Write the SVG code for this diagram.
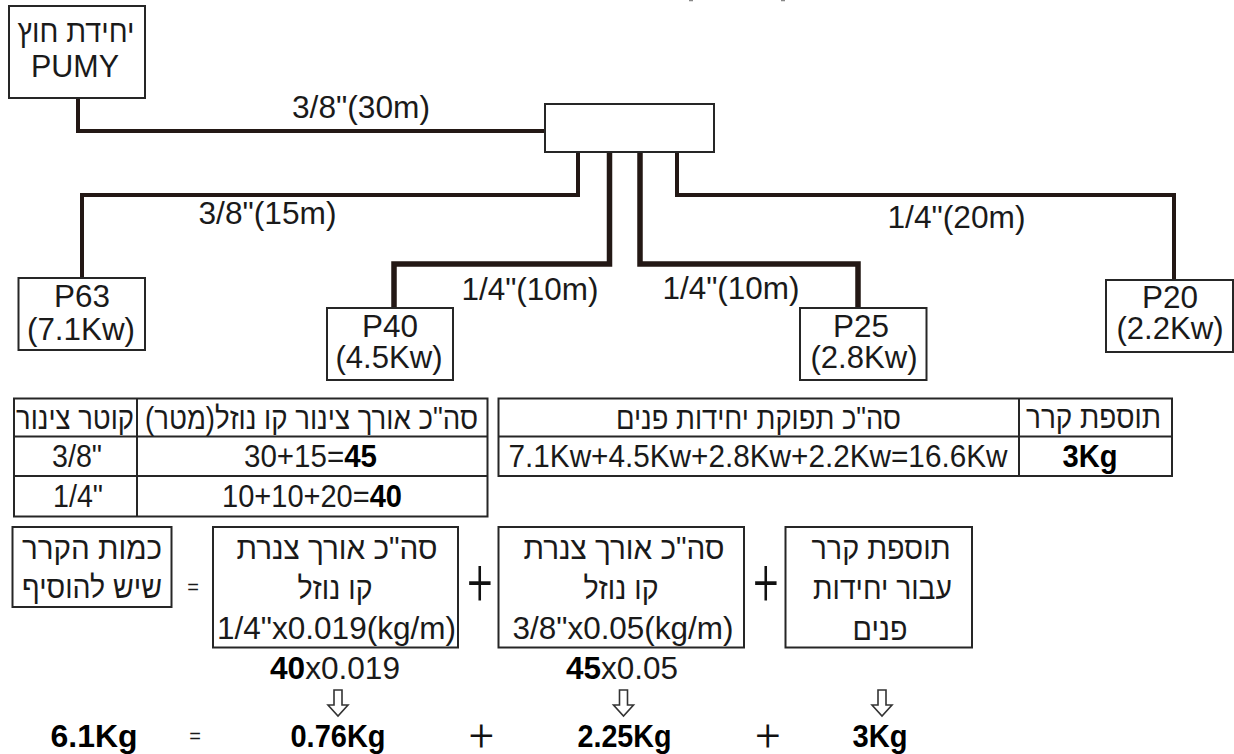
<svg xmlns="http://www.w3.org/2000/svg" width="1234" height="754" viewBox="0 0 1234 754">
<style>
text{font-family:"Liberation Sans","DejaVu Sans",sans-serif;font-size:31px;fill:#1a1a1a;text-anchor:middle;font-kerning:normal}
.b{font-weight:bold;fill:#000}
.op{font-family:Roboto,"Liberation Sans",sans-serif;font-weight:300;fill:#111;font-size:44px}
.eq{font-size:20px}
rect{fill:#fff;stroke:#262626;stroke-width:2}
.grid{fill:none;stroke:#262626;stroke-width:2}
.p{fill:none;stroke:#231815;stroke-width:4}
.t{stroke-width:5.5}
.ar{fill:#fff;stroke:#333;stroke-width:1.6}
.m{fill:none;stroke:#888;stroke-width:1.5}
</style>
<defs>
<path id="down" d="M-4 -13H4V2H10L0 13L-10 2H-4Z"/>
</defs>
<g id="connectors">
<path class="p" d="M78 98V131H546"/>
<path class="p" d="M578 152V195H82V279"/>
<path class="p t" d="M609.500 152V264H394V309"/>
<path class="p t" d="M640 152V264H858V309"/>
<path class="p" d="M677 152V195H1174V281"/>
</g>
<g id="outdoor"><rect x="9" y="6" width="136" height="92"/><text x="76" y="42" direction="rtl" textLength="117" lengthAdjust="spacingAndGlyphs">יחידת חוץ</text><text x="75" y="77" textLength="88" lengthAdjust="spacingAndGlyphs">PUMY</text></g>
<g id="branch"><rect x="545" y="104" width="169" height="48"/></g>
<g id="p63"><rect x="18.500" y="278" width="126.500" height="72"/><text x="82" y="307" textLength="56" lengthAdjust="spacingAndGlyphs">P63</text><text x="81" y="340" textLength="108" lengthAdjust="spacingAndGlyphs">(7.1Kw)</text></g>
<g id="p40"><rect x="327" y="308" width="126" height="72"/><text x="390" y="337" textLength="56" lengthAdjust="spacingAndGlyphs">P40</text><text x="389" y="368" textLength="107" lengthAdjust="spacingAndGlyphs">(4.5Kw)</text></g>
<g id="p25"><rect x="800" y="308" width="126.500" height="72"/><text x="861" y="337" textLength="56" lengthAdjust="spacingAndGlyphs">P25</text><text x="864" y="368" textLength="107" lengthAdjust="spacingAndGlyphs">(2.8Kw)</text></g>
<g id="p20"><rect x="1106" y="280" width="127" height="72"/><text x="1170" y="308" textLength="56" lengthAdjust="spacingAndGlyphs">P20</text><text x="1170" y="339" textLength="107" lengthAdjust="spacingAndGlyphs">(2.2Kw)</text></g>
<g id="pipe-labels">
<text x="361" y="118" textLength="138" lengthAdjust="spacingAndGlyphs">3/8"(30m)</text>
<text x="267.500" y="224" textLength="138" lengthAdjust="spacingAndGlyphs">3/8"(15m)</text>
<text x="530" y="300" textLength="137" lengthAdjust="spacingAndGlyphs">1/4"(10m)</text>
<text x="731" y="299" textLength="137" lengthAdjust="spacingAndGlyphs">1/4"(10m)</text>
<text x="956.500" y="228" textLength="138" lengthAdjust="spacingAndGlyphs">1/4"(20m)</text>
</g>
<g id="table-pipes">
<path class="grid" d="M14 398.500H487.500V516.500H14ZM14 436.500H487.500M14 476H487.500M137 398.500V516.500"/>
<text x="75" y="429" direction="rtl" textLength="118" lengthAdjust="spacingAndGlyphs">קוטר צינור</text>
<text x="311.500" y="429" direction="rtl" textLength="333" lengthAdjust="spacingAndGlyphs">סה"כ אורך צינור קו נוזל(מטר)</text>
<text x="77" y="467" textLength="50" lengthAdjust="spacingAndGlyphs">3/8"</text>
<text x="78" y="507" textLength="50" lengthAdjust="spacingAndGlyphs">1/4"</text>
<text x="310.500" y="467" textLength="133" lengthAdjust="spacingAndGlyphs">30+15=<tspan class="b">45</tspan></text>
<text x="312" y="507" textLength="180" lengthAdjust="spacingAndGlyphs">10+10+20=<tspan class="b">40</tspan></text>
</g>
<g id="table-capacity">
<path class="grid" d="M498.500 398.500H1172V476H498.500ZM498.500 436.500H1172M1019 398.500V476"/>
<text x="758.500" y="429" direction="rtl" textLength="285" lengthAdjust="spacingAndGlyphs">סה"כ תפוקת יחידות פנים</text>
<text x="758" y="467" textLength="499" lengthAdjust="spacingAndGlyphs">7.1Kw+4.5Kw+2.8Kw+2.2Kw=16.6Kw</text>
<text x="1093.500" y="428" direction="rtl" textLength="135" lengthAdjust="spacingAndGlyphs">תוספת קרר</text>
<text class="b" x="1090" y="467" textLength="55" lengthAdjust="spacingAndGlyphs">3Kg</text>
</g>
<g id="refrigerant-total"><rect x="12.500" y="527" width="159" height="80"/>
<text x="92" y="559" direction="rtl" textLength="140" lengthAdjust="spacingAndGlyphs">כמות הקרר</text>
<text x="92" y="598" direction="rtl" textLength="140" lengthAdjust="spacingAndGlyphs">שיש להוסיף</text></g>
<g id="pipe-quarter"><rect x="213" y="527" width="245" height="120.500"/>
<text x="337" y="559" direction="rtl" textLength="201" lengthAdjust="spacingAndGlyphs">סה"כ אורך צנרת</text>
<text x="335" y="599" direction="rtl" textLength="75" lengthAdjust="spacingAndGlyphs">קו נוזל</text>
<text x="336.500" y="639" textLength="239" lengthAdjust="spacingAndGlyphs">1/4"x0.019(kg/m)</text></g>
<g id="pipe-three-eighths"><rect x="498.500" y="527" width="245.500" height="120.500"/>
<text x="624" y="559" direction="rtl" textLength="201" lengthAdjust="spacingAndGlyphs">סה"כ אורך צנרת</text>
<text x="621" y="599" direction="rtl" textLength="75" lengthAdjust="spacingAndGlyphs">קו נוזל</text>
<text x="623" y="639" textLength="221" lengthAdjust="spacingAndGlyphs">3/8"x0.05(kg/m)</text></g>
<g id="indoor-addition"><rect x="785.500" y="527" width="186.500" height="120.500"/>
<text x="881" y="559" direction="rtl" textLength="139" lengthAdjust="spacingAndGlyphs">תוספת קרר</text>
<text x="882.500" y="599" direction="rtl" textLength="139" lengthAdjust="spacingAndGlyphs">עבור יחידות</text>
<text x="880" y="640" direction="rtl" textLength="55" lengthAdjust="spacingAndGlyphs">פנים</text></g>
<g id="formula">
<text class="eq" x="193" y="594">=</text>
<text class="eq" x="195" y="743">=</text>
<text class="op" transform="translate(480 606) scale(1 1.5)">+</text>
<text class="op" transform="translate(766 606) scale(1 1.5)">+</text>
<text class="op" transform="translate(481.500 751)">+</text>
<text class="op" transform="translate(768 751)">+</text>
<text x="335" y="679" textLength="130" lengthAdjust="spacingAndGlyphs"><tspan class="b">40</tspan>x0.019</text>
<text x="622" y="679" textLength="112" lengthAdjust="spacingAndGlyphs"><tspan class="b">45</tspan>x0.05</text>
<use href="#down" class="ar" x="338" y="703"/>
<use href="#down" class="ar" x="623.500" y="703"/>
<use href="#down" class="ar" x="882" y="703"/>
<text class="b" x="94" y="747" textLength="87" lengthAdjust="spacingAndGlyphs">6.1Kg</text>
<text class="b" x="338" y="747" textLength="95" lengthAdjust="spacingAndGlyphs">0.76Kg</text>
<text class="b" x="624.500" y="747" textLength="94" lengthAdjust="spacingAndGlyphs">2.25Kg</text>
<text class="b" x="880" y="747" textLength="55" lengthAdjust="spacingAndGlyphs">3Kg</text>
</g>
<path class="m" d="M689 0.500h4M781 0.500h4"/>
</svg>
